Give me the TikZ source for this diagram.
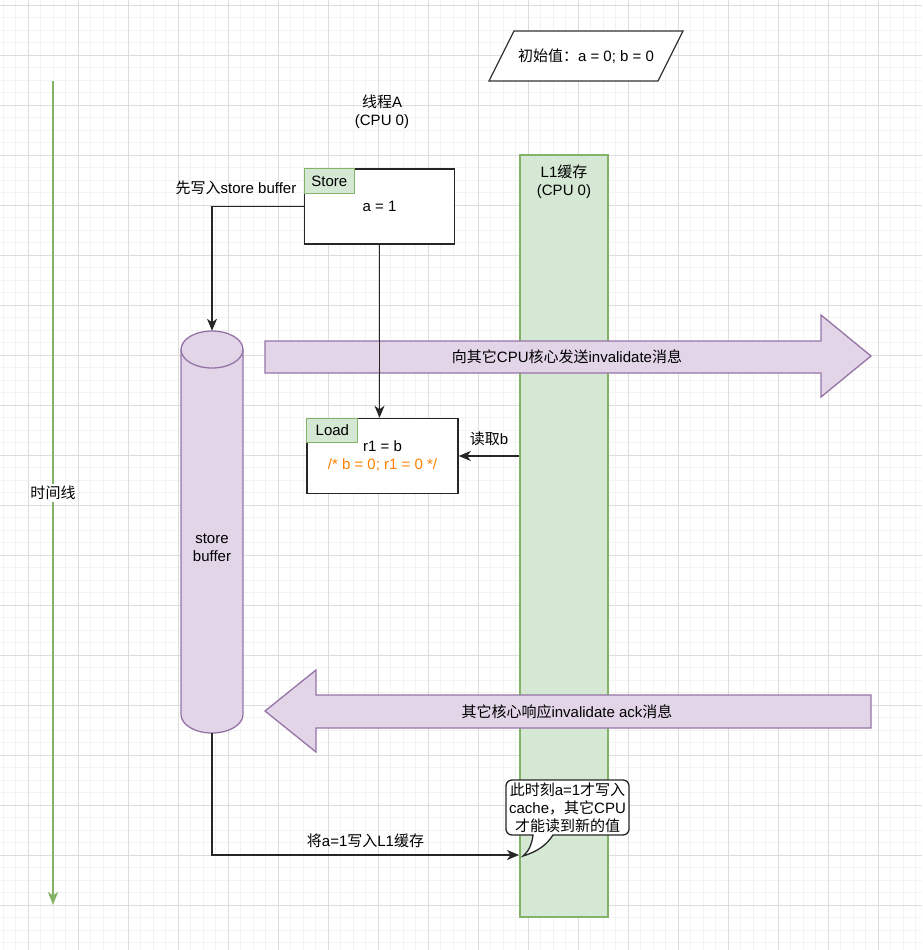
\documentclass[tikz,border=0pt]{standalone}
\usepackage{fontspec}
\setmainfont{Liberation Sans}
\newfontfamily\cjk{Noto Sans CJK SC}
\usepackage{tikz}
\usetikzlibrary{arrows.meta}
\definecolor{gridmin}{HTML}{F3F3F3}
\definecolor{gridmaj}{HTML}{DDDDDD}
\definecolor{mygreen}{HTML}{D5E8D4}
\definecolor{mygreenline}{HTML}{82B366}
\definecolor{mypurple}{HTML}{E1D5E7}
\definecolor{mypurpleline}{HTML}{9673A6}
\definecolor{mynote}{HTML}{FF8000}

\begin{document}
\begin{tikzpicture}[x=1pt,y=-1pt,>={Stealth[length=12pt,width=10pt,inset=3.5pt]},
  font=\fontsize{15}{18}\selectfont,
  main box/.style={rectangle,draw=black!85,fill=white,line width=1.5pt,
    minimum width=150pt,minimum height=75pt,inner sep=0pt,align=center},
  tag node/.style={rectangle,draw=mygreenline,fill=mygreen,line width=1.2pt,
    minimum width=50pt,minimum height=25pt,inner sep=0pt,anchor=north west},
  buffer node/.style={rectangle,inner sep=0pt,minimum width=62pt,minimum height=402pt},
  cache col/.style={rectangle,draw=mygreenline,fill=mygreen,line width=1.3pt,
    minimum width=88pt,minimum height=762pt},
  big arrow/.style={draw=mypurpleline,fill=mypurple,line width=1.3pt},
  link/.style={->,draw=black!85,line width=1.5pt},
  callout/.style={draw=black!85,fill=white,line width=1.3pt}]

\useasboundingbox (0,0) rectangle (922,950);

% grid
\foreach \i in {0,...,73}
  \draw[gridmin,line width=0.8pt] ({3.3+12.5*\i},0) -- ({3.3+12.5*\i},950);
\foreach \j in {0,...,75}
  \draw[gridmin,line width=0.8pt] (0,{5+12.5*\j}) -- (922,{5+12.5*\j});
\foreach \i in {0,...,17}
  \draw[gridmaj,line width=0.8pt] ({28.3+50*\i},0) -- ({28.3+50*\i},950);
\foreach \j in {0,...,18}
  \draw[gridmaj,line width=0.8pt] (0,{5+50*\j}) -- (922,{5+50*\j});

% time line
\coordinate (t0) at (53,81);
\coordinate (t1) at (53,905);
\draw[->,draw=mygreenline,line width=2pt,>={Stealth[length=13pt,width=10pt,inset=3.5pt]}]
  (t0) -- (t1) node[midway,fill=white,inner sep=2pt] (tlabel) {{\cjk 时间线}};

% initial values
\draw[black!80,fill=white,line width=1.3pt] (489,81) -- (514,31) -- (683,31) -- (658,81) -- cycle;
\node (init) at (586,56) {{\cjk 初始值：}a = 0; b = 0};

\node[align=center] (thread) at (382,112) {{\cjk 线程}A\\(CPU 0)};

% L1 cache column
\node[cache col] (l1) at (564,536) {};
\node[align=center] (l1txt) at (564,182) {L1{\cjk 缓存}\\(CPU 0)};

% store / load
\node[main box] (store) at (379.5,206.5) {a = 1};
\node[tag node] (storetag) at (store.north west) {Store};
\node[main box,minimum width=151pt] (load) at (382.5,456) {r1 = b\\\textcolor{mynote}{/* b = 0; r1 = 0 */}};
\node[tag node,minimum width=51pt,minimum height=24pt] (loadtag) at (load.north west) {Load};

% store buffer
\node[buffer node] (buf) at (212,532) {};
\draw[draw=mypurpleline,fill=mypurple,line width=1.3pt]
  (181,714.5) arc (180:0:31 and 18.5) -- (243,349.5) arc (0:-180:31 and 18.5) -- cycle;
\draw[draw=mypurpleline,line width=1.3pt] (181,349.5) arc (180:0:31 and 18.5);
\node[align=center] (buftxt) at (212,548) {store\\buffer};

% big arrows
\draw[big arrow] (265,341) -- (821,341) -- (821,315) -- (871,356) -- (821,397)
  -- (821,373) -- (265,373) -- cycle;
\node (inv) at (567,357) {{\cjk 向其它}CPU{\cjk 核心发送}invalidate{\cjk 消息}};
\draw[big arrow] (871,695) -- (316,695) -- (316,670) -- (265,711) -- (316,752)
  -- (316,728) -- (871,728) -- cycle;
\node (ack) at (567,712) {{\cjk 其它核心响应}invalidate ack{\cjk 消息}};

% connectors
\node (firstsb) at (236,188) {{\cjk 先写入}store buffer};
\draw[link] (store.west) -| (buf.north);
\draw[link] (store.south) -- (store.south |- load.north);
\draw[link] (l1.west |- load.east) -- (load.east)
  node[midway,above=6pt] (readb) {{\cjk 读取}b};
\coordinate (cachein) at (519,855);
\draw[link] (buf.south) |- (cachein)
  node[pos=0.75,above=3pt] (writel1) {{\cjk 将}a=1{\cjk 写入}L1{\cjk 缓存}};

% callout
\draw[callout] (553,835) [rounded corners=6pt] -- (629,835) -- (629,780) -- (506,780)
  -- (506,835) [sharp corners] -- (533,835) .. controls (532,843) and (530,850) .. (523,856)
  .. controls (536,852) and (546,846) .. (553,835) -- cycle;
\node[align=center] (msg) at (567.5,808) {{\cjk 此时刻}a=1{\cjk 才写入}\\cache{\cjk ，其它}CPU\\{\cjk 才能读到新的值}};

\end{tikzpicture}
\end{document}
